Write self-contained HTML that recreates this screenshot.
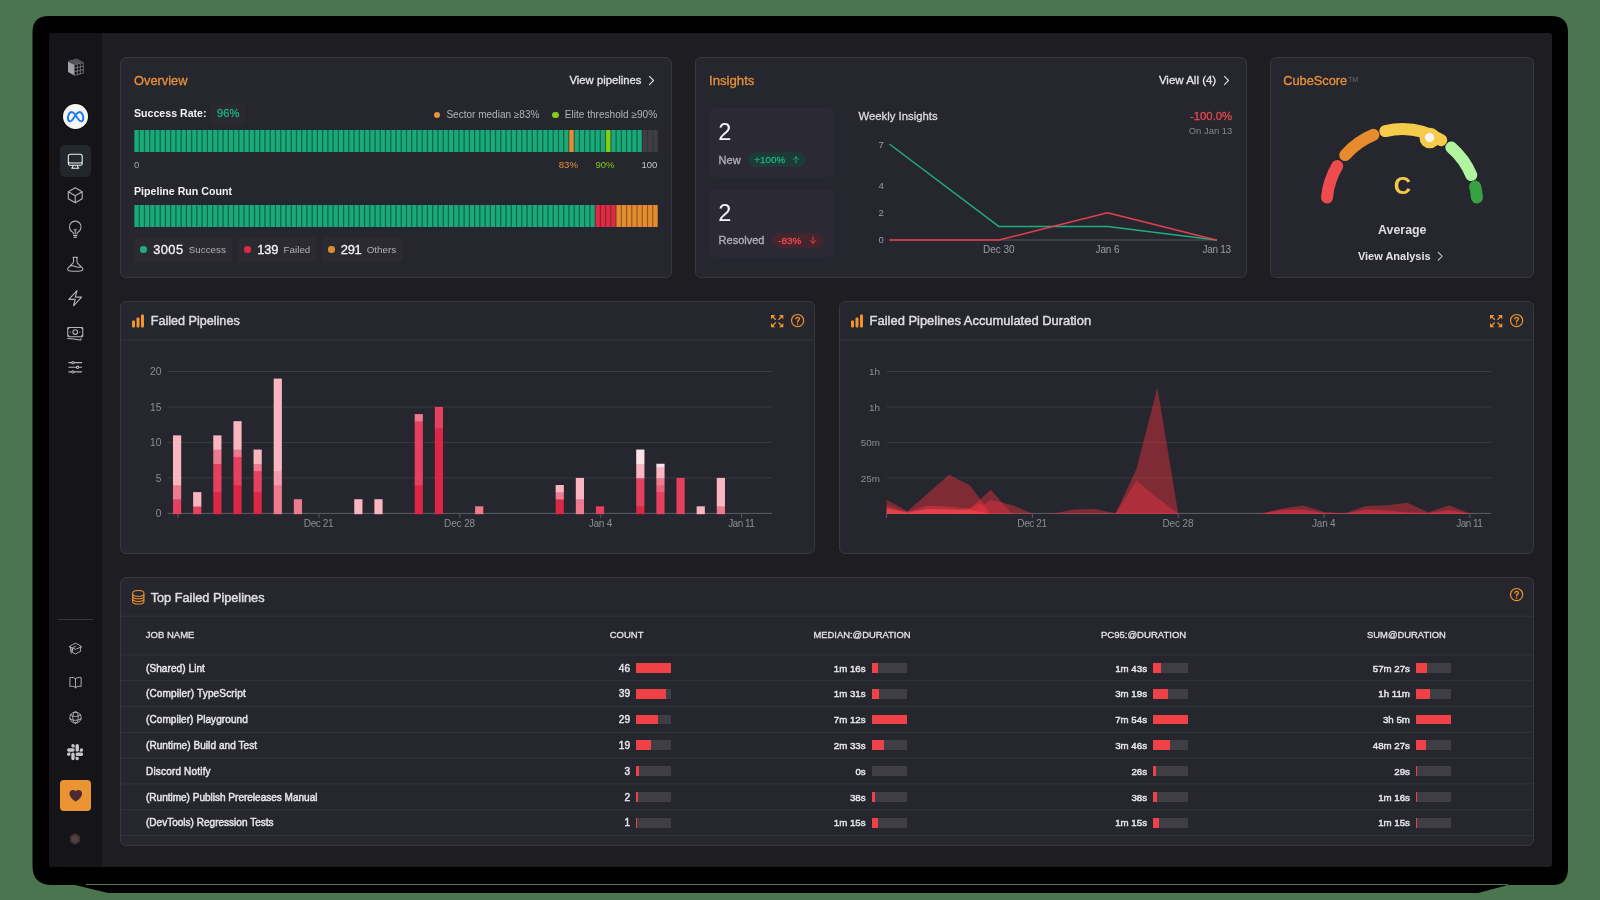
<!DOCTYPE html>
<html><head><meta charset="utf-8"><title>Dashboard</title>
<style>
html,body{margin:0;padding:0;}
body{width:1600px;height:900px;overflow:hidden;position:relative;background:#4a754f;font-family:"Liberation Sans",sans-serif;}
.t{position:absolute;line-height:1;white-space:nowrap;}
#w{position:absolute;left:0;top:0;width:1600px;height:900px;will-change:transform;}
.m{-webkit-text-stroke:0.3px currentColor;}
.m2{-webkit-text-stroke:0.45px currentColor;}
.b{font-weight:bold;}
.card{position:absolute;background:#25262e;border:1px solid #37373d;border-radius:6px;box-sizing:border-box;}
svg{overflow:visible;}
</style></head><body><div id="w">
<svg style="position:absolute;left:0;top:0" width="1600" height="900"><path d="M49 16 H1551 Q1568 16 1568 32 V868 Q1568 885 1553 885 H1508 L1478 893 H108 L75 885 H52 Q32.5 885 32.5 866 V32 Q32.5 16 49 16 Z" fill="#000"/><rect x="86" y="884" width="1422" height="1" fill="#4a754f"/></svg>
<div style="position:absolute;left:49.00px;top:33.00px;width:1503.00px;height:834.00px;background:#1d1d22;border-radius:3px;"></div>
<div style="position:absolute;left:49.00px;top:33.00px;width:53.00px;height:834.00px;background:#141419;border-radius:3px 0 0 3px;"></div>
<svg style="position:absolute;left:67.70px;top:58.50px" width="15.3" height="16.4" viewBox="0 0 15.3 16.4"><polygon points="0.00,2.50 6.30,5.60 6.30,16.40 0.00,13.10" fill="#a2a2a8"/><polygon points="6.30,5.60 15.30,3.70 15.30,14.10 6.30,16.40" fill="#0e0e12"/><polygon points="0.00,2.50 8.70,0.00 15.30,3.70 6.30,5.60" fill="#2a2a30"/><line x1="6.30" y1="5.60" x2="6.30" y2="16.40" stroke="#7d7d84" stroke-width="0.85"/><line x1="6.30" y1="5.60" x2="15.30" y2="3.70" stroke="#7d7d84" stroke-width="0.85"/><line x1="9.30" y1="4.97" x2="9.30" y2="15.63" stroke="#7d7d84" stroke-width="0.85"/><line x1="6.30" y1="9.20" x2="15.30" y2="7.17" stroke="#7d7d84" stroke-width="0.85"/><line x1="12.30" y1="4.33" x2="12.30" y2="14.87" stroke="#7d7d84" stroke-width="0.85"/><line x1="6.30" y1="12.80" x2="15.30" y2="10.63" stroke="#7d7d84" stroke-width="0.85"/><line x1="15.30" y1="3.70" x2="15.30" y2="14.10" stroke="#7d7d84" stroke-width="0.85"/><line x1="6.30" y1="16.40" x2="15.30" y2="14.10" stroke="#7d7d84" stroke-width="0.85"/><line x1="0.00" y1="2.50" x2="8.70" y2="0.00" stroke="#6a6a71" stroke-width="0.8"/><line x1="0.00" y1="2.50" x2="6.30" y2="5.60" stroke="#6a6a71" stroke-width="0.8"/><line x1="2.10" y1="3.53" x2="10.90" y2="1.23" stroke="#6a6a71" stroke-width="0.8"/><line x1="2.90" y1="1.67" x2="9.30" y2="4.97" stroke="#6a6a71" stroke-width="0.8"/><line x1="4.20" y1="4.57" x2="13.10" y2="2.47" stroke="#6a6a71" stroke-width="0.8"/><line x1="5.80" y1="0.83" x2="12.30" y2="4.33" stroke="#6a6a71" stroke-width="0.8"/><line x1="8.7" y1="0" x2="15.3" y2="3.7" stroke="#6a6a71" stroke-width="0.8"/></svg>
<div style="position:absolute;left:62.90px;top:104.40px;width:24.7px;height:25px;border-radius:50%;background:#f6f6f7;box-shadow:0 0 0 1px #0d0d10;"></div>
<svg style="position:absolute;left:66.8px;top:110.8px" width="17.2" height="11.4" viewBox="0 0 17.2 11.4" fill="none" stroke="#1877f2" stroke-width="1.9" stroke-linejoin="round"><path d="M8.6 4.1C7.4 2.3 6.200 1 4.700 1C2.500 1 .95 4.200 .95 7.300C.95 9.300 1.900 10.350 3.200 10.350C5 10.350 6.300 8.100 8.600 4.100C10.900 8.100 12.200 10.350 14 10.350C15.400 10.350 16.300 9.300 16.300 7.300C16.300 4.200 14.700 1 12.500 1C11 1 9.800 2.300 8.600 4.100Z"/></svg>
<div style="position:absolute;left:60.00px;top:145.00px;width:30.80px;height:31.50px;background:#22272e;border-radius:5px;"></div>
<svg style="position:absolute;left:66.05px;top:151.55px;" width="18.5" height="18.5" viewBox="0 0 24 24" fill="none" stroke="#f0f0f2" stroke-width="1.4" stroke-linecap="round" stroke-linejoin="round"><path d="M9 17.25v1.007a3 3 0 0 1-.879 2.122L7.5 21h9l-.621-.621A3 3 0 0 1 15 18.257V17.25m6-12V15a2.25 2.25 0 0 1-2.25 2.25H5.25A2.25 2.25 0 0 1 3 15V5.25m18 0A2.25 2.25 0 0 0 18.75 3H5.25A2.25 2.25 0 0 0 3 5.25m18 0V12a2.25 2.25 0 0 1-2.25 2.25H5.25A2.25 2.25 0 0 1 3 12V5.25"/></svg>
<svg style="position:absolute;left:66.05px;top:185.75px;" width="18.5" height="18.5" viewBox="0 0 24 24" fill="none" stroke="#b4b4ba" stroke-width="1.4" stroke-linecap="round" stroke-linejoin="round"><path d="m21 7.5-9-5.25L3 7.5m18 0-9 5.25m9-5.25v9l-9 5.25M3 7.5l9 5.25M3 7.5v9l9 5.25m0-9v9"/></svg>
<svg style="position:absolute;left:66.05px;top:220.25px;" width="18.5" height="18.5" viewBox="0 0 24 24" fill="none" stroke="#b4b4ba" stroke-width="1.4" stroke-linecap="round" stroke-linejoin="round"><path d="M12 18v-5.25m0 0a6.01 6.01 0 0 0 1.5-.189m-1.5.189a6.01 6.01 0 0 1-1.5-.189m3.75 7.478a12.06 12.06 0 0 1-4.5 0m3.75 2.383a14.406 14.406 0 0 1-3 0M14.25 18v-.192c0-.983.658-1.823 1.508-2.316a7.5 7.5 0 1 0-7.517 0c.85.493 1.509 1.333 1.509 2.316V18"/></svg>
<svg style="position:absolute;left:66.05px;top:254.75px;" width="18.5" height="18.5" viewBox="0 0 24 24" fill="none" stroke="#b4b4ba" stroke-width="1.4" stroke-linecap="round" stroke-linejoin="round"><path d="M9.75 3.104v5.714a2.25 2.25 0 0 1-.659 1.591L5 14.5M9.75 3.104c-.251.023-.501.05-.75.082m.75-.082a24.301 24.301 0 0 1 4.5 0m0 0v5.714c0 .597.237 1.17.659 1.591L19.8 15.3M14.25 3.104c.251.023.501.05.75.082M19.8 15.3l-1.57.393A9.065 9.065 0 0 1 12 15a9.065 9.065 0 0 0-6.23-.693L5 14.5m14.8.8 1.402 1.402c1.232 1.232.65 3.318-1.067 3.611A48.309 48.309 0 0 1 12 21c-2.773 0-5.491-.235-8.135-.687-1.718-.293-2.3-2.379-1.067-3.61L5 14.5"/></svg>
<svg style="position:absolute;left:66.05px;top:289.25px;" width="18.5" height="18.5" viewBox="0 0 24 24" fill="none" stroke="#b4b4ba" stroke-width="1.4" stroke-linecap="round" stroke-linejoin="round"><path d="m3.75 13.5 10.5-11.25L12 10.5h8.25L9.75 21.75 12 13.5H3.75Z"/></svg>
<svg style="position:absolute;left:66.05px;top:323.75px;" width="18.5" height="18.5" viewBox="0 0 24 24" fill="none" stroke="#b4b4ba" stroke-width="1.4" stroke-linecap="round" stroke-linejoin="round"><path d="M2.25 18.75a60.07 60.07 0 0 1 15.797 2.101c.727.198 1.453-.342 1.453-1.096V18.75M3.75 4.5v.75A.75.75 0 0 1 3 6h-.75m0 0v-.375c0-.621.504-1.125 1.125-1.125H20.25M2.25 6v9m18-10.5v.75c0 .414.336.75.75.75h.75m-1.5-1.5h.375c.621 0 1.125.504 1.125 1.125v9.75c0 .621-.504 1.125-1.125 1.125h-.375m1.5-1.5H21a.75.75 0 0 0-.75.75v.75m0 0H3.75m0 0h-.375a1.125 1.125 0 0 1-1.125-1.125V15m1.5 1.5v-.75A.75.75 0 0 0 3 15h-.75M15 10.5a3 3 0 1 1-6 0 3 3 0 0 1 6 0Zm3 0h.008v.008H18V10.5Zm-12 0h.008v.008H6V10.5Z"/></svg>
<svg style="position:absolute;left:66.05px;top:358.25px;" width="18.5" height="18.5" viewBox="0 0 24 24" fill="none" stroke="#b4b4ba" stroke-width="1.4" stroke-linecap="round" stroke-linejoin="round"><path d="M10.5 6h9.75M10.5 6a1.5 1.5 0 1 1-3 0m3 0a1.5 1.5 0 1 0-3 0M3.75 6H7.5m3 12h9.75m-9.75 0a1.5 1.5 0 0 1-3 0m3 0a1.5 1.5 0 0 0-3 0m-3.75 0H7.5m9-6h3.75m-3.75 0a1.5 1.5 0 0 1-3 0m3 0a1.5 1.5 0 0 0-3 0m-9.75 0h9.75"/></svg>
<div style="position:absolute;left:58.00px;top:619.00px;width:35.00px;height:1.00px;background:#36363d;"></div>
<svg style="position:absolute;left:67.80px;top:640.80px;" width="15" height="15" viewBox="0 0 24 24" fill="none" stroke="#b4b4ba" stroke-width="1.5" stroke-linecap="round" stroke-linejoin="round"><path d="M4.26 10.147a60.438 60.438 0 0 0-.491 6.347A48.62 48.62 0 0 1 12 20.904a48.62 48.62 0 0 1 8.232-4.41 60.46 60.46 0 0 0-.491-6.347m-15.482 0a50.636 50.636 0 0 0-2.658-.813A59.906 59.906 0 0 1 12 3.493a59.903 59.903 0 0 1 10.399 5.84c-.896.248-1.783.52-2.658.814m-15.482 0A50.717 50.717 0 0 1 12 13.489a50.702 50.702 0 0 1 7.74-3.342M6.75 15a.75.75 0 1 0 0-1.5.75.75 0 0 0 0 1.5Zm0 0v-3.675A55.378 55.378 0 0 1 12 8.443m-7.007 11.55A5.981 5.981 0 0 0 6.75 15.75v-1.5"/></svg>
<svg style="position:absolute;left:67.80px;top:674.80px;" width="15" height="15" viewBox="0 0 24 24" fill="none" stroke="#b4b4ba" stroke-width="1.5" stroke-linecap="round" stroke-linejoin="round"><path d="M12 6.042A8.967 8.967 0 0 0 6 3.75c-1.052 0-2.062.18-3 .512v14.25A8.987 8.987 0 0 1 6 18c2.305 0 4.408.867 6 2.292m0-14.25a8.966 8.966 0 0 1 6-2.292c1.052 0 2.062.18 3 .512v14.25A8.987 8.987 0 0 0 18 18a8.967 8.967 0 0 0-6 2.292m0-14.25v14.25"/></svg>
<svg style="position:absolute;left:67.80px;top:709.50px;" width="15" height="15" viewBox="0 0 24 24" fill="none" stroke="#b4b4ba" stroke-width="1.5" stroke-linecap="round" stroke-linejoin="round"><path d="M12 21a9.004 9.004 0 0 0 8.716-6.747M12 21a9.004 9.004 0 0 1-8.716-6.747M12 21c2.485 0 4.5-4.03 4.5-9S14.485 3 12 3m0 18c-2.485 0-4.5-4.03-4.5-9S9.515 3 12 3m0 0a8.997 8.997 0 0 1 7.843 4.582M12 3a8.997 8.997 0 0 0-7.843 4.582m15.686 0A11.953 11.953 0 0 1 12 10.5c-2.998 0-5.74-1.1-7.843-2.918m15.686 0A8.959 8.959 0 0 1 21 12c0 .778-.099 1.533-.284 2.253m0 0A17.919 17.919 0 0 1 12 16.5c-3.162 0-6.133-.815-8.716-2.247m0 0A9.015 9.015 0 0 1 3 12c0-1.605.42-3.113 1.157-4.418"/></svg>
<svg style="position:absolute;left:67.00px;top:743.60px" width="16.2" height="16.2" viewBox="0 0 24 24" fill="#c6c6cb"><path d="M5.042 15.165a2.528 2.528 0 0 1-2.520 2.523A2.528 2.528 0 0 1 0 15.165a2.527 2.527 0 0 1 2.522-2.520h2.520v2.520zM6.313 15.165a2.527 2.527 0 0 1 2.521-2.520 2.527 2.527 0 0 1 2.521 2.520v6.313A2.528 2.528 0 0 1 8.834 24a2.528 2.528 0 0 1-2.521-2.522v-6.313zM8.834 5.042a2.528 2.528 0 0 1-2.521-2.520A2.528 2.528 0 0 1 8.834 0a2.528 2.528 0 0 1 2.521 2.522v2.520H8.834zM8.834 6.313a2.528 2.528 0 0 1 2.521 2.521 2.528 2.528 0 0 1-2.521 2.521H2.522A2.528 2.528 0 0 1 0 8.834a2.528 2.528 0 0 1 2.522-2.521h6.312zM18.956 8.834a2.528 2.528 0 0 1 2.522-2.521A2.528 2.528 0 0 1 24 8.834a2.528 2.528 0 0 1-2.522 2.521h-2.522V8.834zM17.688 8.834a2.528 2.528 0 0 1-2.523 2.521 2.527 2.527 0 0 1-2.520-2.521V2.522A2.527 2.527 0 0 1 15.165 0a2.528 2.528 0 0 1 2.523 2.522v6.312zM15.165 18.956a2.528 2.528 0 0 1 2.523 2.522A2.528 2.528 0 0 1 15.165 24a2.527 2.527 0 0 1-2.520-2.522v-2.522h2.520zM15.165 17.688a2.527 2.527 0 0 1-2.520-2.523 2.526 2.526 0 0 1 2.520-2.520h6.313A2.527 2.527 0 0 1 24 15.165a2.528 2.528 0 0 1-2.522 2.523h-6.313z"/></svg>
<div style="position:absolute;left:59.70px;top:780.00px;width:31.30px;height:31.00px;background:#ea9434;border-radius:4px;"></div>
<svg style="position:absolute;left:67.55px;top:787.55px;" width="15.5" height="15.5" viewBox="0 0 24 24" fill="#4a2b33" ><path d="m11.645 20.91-.007-.003-.022-.012a15.247 15.247 0 0 1-.383-.218 25.18 25.18 0 0 1-4.244-3.17C4.688 15.36 2.25 12.174 2.25 8.25 2.25 5.322 4.714 3 7.688 3A5.5 5.5 0 0 1 12 5.052 5.5 5.5 0 0 1 16.313 3c2.973 0 5.437 2.322 5.437 5.25 0 3.925-2.438 7.111-4.739 9.256a25.175 25.175 0 0 1-4.244 3.17 15.247 15.247 0 0 1-.383.219l-.022.012-.007.004-.003.001a.752.752 0 0 1-.704 0l-.003-.001Z"/></svg>
<svg style="position:absolute;left:68.30px;top:832.30px" width="14" height="14" viewBox="0 0 14 14"><polygon points="7,1 12.2,4 12.2,10 7,13 1.800,10 1.800,4" fill="#3a2c30"/><polygon points="7,2.8 10.600,4.900 10.600,9.100 7,11.200 3.400,9.100 3.400,4.900" fill="#54403f"/></svg>
<div class="card" style="left:120px;top:57px;width:552px;height:220.5px"></div>
<div class="card" style="left:695px;top:57px;width:552px;height:220.5px"></div>
<div class="card" style="left:1270px;top:57px;width:264px;height:220.5px"></div>
<div class="t m" style="left:134.00px;top:75px;font-size:12.85px;color:#e8913a;">Overview</div>
<div class="t m" style="left:569.50px;top:75px;font-size:11.3px;color:#e6e6ea;">View pipelines</div>
<svg style="position:absolute;left:645.10px;top:73.60px;" width="13" height="13" viewBox="0 0 24 24" fill="none" stroke="#dedee2" stroke-width="2" stroke-linecap="round" stroke-linejoin="round"><path d="m8.25 4.5 7.5 7.5-7.5 7.5"/></svg>
<div style="position:absolute;left:210.40px;top:102.50px;width:36.60px;height:21.00px;background:#2a2831;border-radius:5px;"></div>
<div class="t b" style="left:134.00px;top:108px;font-size:10.62px;color:#f2f2f4;">Success Rate:</div>
<div class="t m" style="left:217.00px;top:108px;font-size:11.2px;color:#1fae7d;">96%</div>
<div style="position:absolute;left:433.80px;top:111.50px;width:6.50px;height:6.50px;background:#e8913a;border-radius:50%;"></div>
<div class="t" style="left:446.40px;top:110px;font-size:10.04px;color:#b3b3b9;">Sector median ≥83%</div>
<div style="position:absolute;left:552.00px;top:111.50px;width:6.50px;height:6.50px;background:#84cc16;border-radius:50%;"></div>
<div class="t" style="left:564.80px;top:110px;font-size:10.08px;color:#b3b3b9;">Elite threshold ≥90%</div>
<svg style="position:absolute;left:134px;top:130.2px" width="524" height="22" viewBox="0 0 524 22" shape-rendering="auto"><rect x="0.00" y="0" width="434.92" height="22" fill="#0f6247"/><rect x="0.60" y="0" width="4.04" height="22" fill="#1aa978"/><rect x="5.84" y="0" width="4.04" height="22" fill="#1aa978"/><rect x="11.08" y="0" width="4.04" height="22" fill="#1aa978"/><rect x="16.32" y="0" width="4.04" height="22" fill="#1aa978"/><rect x="21.56" y="0" width="4.04" height="22" fill="#1aa978"/><rect x="26.80" y="0" width="4.04" height="22" fill="#1aa978"/><rect x="32.04" y="0" width="4.04" height="22" fill="#1aa978"/><rect x="37.28" y="0" width="4.04" height="22" fill="#1aa978"/><rect x="42.52" y="0" width="4.04" height="22" fill="#1aa978"/><rect x="47.76" y="0" width="4.04" height="22" fill="#1aa978"/><rect x="53.00" y="0" width="4.04" height="22" fill="#1aa978"/><rect x="58.24" y="0" width="4.04" height="22" fill="#1aa978"/><rect x="63.48" y="0" width="4.04" height="22" fill="#1aa978"/><rect x="68.72" y="0" width="4.04" height="22" fill="#1aa978"/><rect x="73.96" y="0" width="4.04" height="22" fill="#1aa978"/><rect x="79.20" y="0" width="4.04" height="22" fill="#1aa978"/><rect x="84.44" y="0" width="4.04" height="22" fill="#1aa978"/><rect x="89.68" y="0" width="4.04" height="22" fill="#1aa978"/><rect x="94.92" y="0" width="4.04" height="22" fill="#1aa978"/><rect x="100.16" y="0" width="4.04" height="22" fill="#1aa978"/><rect x="105.40" y="0" width="4.04" height="22" fill="#1aa978"/><rect x="110.64" y="0" width="4.04" height="22" fill="#1aa978"/><rect x="115.88" y="0" width="4.04" height="22" fill="#1aa978"/><rect x="121.12" y="0" width="4.04" height="22" fill="#1aa978"/><rect x="126.36" y="0" width="4.04" height="22" fill="#1aa978"/><rect x="131.60" y="0" width="4.04" height="22" fill="#1aa978"/><rect x="136.84" y="0" width="4.04" height="22" fill="#1aa978"/><rect x="142.08" y="0" width="4.04" height="22" fill="#1aa978"/><rect x="147.32" y="0" width="4.04" height="22" fill="#1aa978"/><rect x="152.56" y="0" width="4.04" height="22" fill="#1aa978"/><rect x="157.80" y="0" width="4.04" height="22" fill="#1aa978"/><rect x="163.04" y="0" width="4.04" height="22" fill="#1aa978"/><rect x="168.28" y="0" width="4.04" height="22" fill="#1aa978"/><rect x="173.52" y="0" width="4.04" height="22" fill="#1aa978"/><rect x="178.76" y="0" width="4.04" height="22" fill="#1aa978"/><rect x="184.00" y="0" width="4.04" height="22" fill="#1aa978"/><rect x="189.24" y="0" width="4.04" height="22" fill="#1aa978"/><rect x="194.48" y="0" width="4.04" height="22" fill="#1aa978"/><rect x="199.72" y="0" width="4.04" height="22" fill="#1aa978"/><rect x="204.96" y="0" width="4.04" height="22" fill="#1aa978"/><rect x="210.20" y="0" width="4.04" height="22" fill="#1aa978"/><rect x="215.44" y="0" width="4.04" height="22" fill="#1aa978"/><rect x="220.68" y="0" width="4.04" height="22" fill="#1aa978"/><rect x="225.92" y="0" width="4.04" height="22" fill="#1aa978"/><rect x="231.16" y="0" width="4.04" height="22" fill="#1aa978"/><rect x="236.40" y="0" width="4.04" height="22" fill="#1aa978"/><rect x="241.64" y="0" width="4.04" height="22" fill="#1aa978"/><rect x="246.88" y="0" width="4.04" height="22" fill="#1aa978"/><rect x="252.12" y="0" width="4.04" height="22" fill="#1aa978"/><rect x="257.36" y="0" width="4.04" height="22" fill="#1aa978"/><rect x="262.60" y="0" width="4.04" height="22" fill="#1aa978"/><rect x="267.84" y="0" width="4.04" height="22" fill="#1aa978"/><rect x="273.08" y="0" width="4.04" height="22" fill="#1aa978"/><rect x="278.32" y="0" width="4.04" height="22" fill="#1aa978"/><rect x="283.56" y="0" width="4.04" height="22" fill="#1aa978"/><rect x="288.80" y="0" width="4.04" height="22" fill="#1aa978"/><rect x="294.04" y="0" width="4.04" height="22" fill="#1aa978"/><rect x="299.28" y="0" width="4.04" height="22" fill="#1aa978"/><rect x="304.52" y="0" width="4.04" height="22" fill="#1aa978"/><rect x="309.76" y="0" width="4.04" height="22" fill="#1aa978"/><rect x="315.00" y="0" width="4.04" height="22" fill="#1aa978"/><rect x="320.24" y="0" width="4.04" height="22" fill="#1aa978"/><rect x="325.48" y="0" width="4.04" height="22" fill="#1aa978"/><rect x="330.72" y="0" width="4.04" height="22" fill="#1aa978"/><rect x="335.96" y="0" width="4.04" height="22" fill="#1aa978"/><rect x="341.20" y="0" width="4.04" height="22" fill="#1aa978"/><rect x="346.44" y="0" width="4.04" height="22" fill="#1aa978"/><rect x="351.68" y="0" width="4.04" height="22" fill="#1aa978"/><rect x="356.92" y="0" width="4.04" height="22" fill="#1aa978"/><rect x="362.16" y="0" width="4.04" height="22" fill="#1aa978"/><rect x="367.40" y="0" width="4.04" height="22" fill="#1aa978"/><rect x="372.64" y="0" width="4.04" height="22" fill="#1aa978"/><rect x="377.88" y="0" width="4.04" height="22" fill="#1aa978"/><rect x="383.12" y="0" width="4.04" height="22" fill="#1aa978"/><rect x="388.36" y="0" width="4.04" height="22" fill="#1aa978"/><rect x="393.60" y="0" width="4.04" height="22" fill="#1aa978"/><rect x="398.84" y="0" width="4.04" height="22" fill="#1aa978"/><rect x="404.08" y="0" width="4.04" height="22" fill="#1aa978"/><rect x="409.32" y="0" width="4.04" height="22" fill="#1aa978"/><rect x="414.56" y="0" width="4.04" height="22" fill="#1aa978"/><rect x="419.80" y="0" width="4.04" height="22" fill="#1aa978"/><rect x="425.04" y="0" width="4.04" height="22" fill="#1aa978"/><rect x="430.28" y="0" width="4.04" height="22" fill="#1aa978"/><rect x="434.92" y="0" width="5.24" height="22" fill="#935a20"/><rect x="435.52" y="0" width="4.04" height="22" fill="#e48c2f"/><rect x="440.16" y="0" width="31.44" height="22" fill="#0f6247"/><rect x="440.76" y="0" width="4.04" height="22" fill="#1aa978"/><rect x="446.00" y="0" width="4.04" height="22" fill="#1aa978"/><rect x="451.24" y="0" width="4.04" height="22" fill="#1aa978"/><rect x="456.48" y="0" width="4.04" height="22" fill="#1aa978"/><rect x="461.72" y="0" width="4.04" height="22" fill="#1aa978"/><rect x="466.96" y="0" width="4.04" height="22" fill="#1aa978"/><rect x="471.60" y="0" width="5.24" height="22" fill="#5a8c10"/><rect x="472.20" y="0" width="4.04" height="22" fill="#86cf17"/><rect x="476.84" y="0" width="31.44" height="22" fill="#0f6247"/><rect x="477.44" y="0" width="4.04" height="22" fill="#1aa978"/><rect x="482.68" y="0" width="4.04" height="22" fill="#1aa978"/><rect x="487.92" y="0" width="4.04" height="22" fill="#1aa978"/><rect x="493.16" y="0" width="4.04" height="22" fill="#1aa978"/><rect x="498.40" y="0" width="4.04" height="22" fill="#1aa978"/><rect x="503.64" y="0" width="4.04" height="22" fill="#1aa978"/><rect x="508.28" y="0" width="15.72" height="22" fill="#323238"/><rect x="508.88" y="0" width="4.04" height="22" fill="#3e3e44"/><rect x="514.12" y="0" width="4.04" height="22" fill="#3e3e44"/><rect x="519.36" y="0" width="4.04" height="22" fill="#3e3e44"/></svg>
<div class="t" style="left:134.00px;top:160px;font-size:9.5px;color:#a4a4ab;">0</div>
<div class="t" style="left:568.40px;transform:translateX(-50%);top:160px;font-size:9.6px;color:#e8913a;">83%</div>
<div class="t" style="left:605.00px;transform:translateX(-50%);top:160px;font-size:9.6px;color:#84cc16;">90%</div>
<div class="t" style="right:942.60px;top:160px;font-size:9.5px;color:#c8c8cd;">100</div>
<div class="t b" style="left:134.00px;top:186px;font-size:10.63px;color:#f2f2f4;">Pipeline Run Count</div>
<svg style="position:absolute;left:134px;top:205.3px" width="524" height="22" viewBox="0 0 524 22" shape-rendering="auto"><rect x="0.00" y="0" width="461.12" height="22" fill="#0f6247"/><rect x="0.60" y="0" width="4.04" height="22" fill="#1aa978"/><rect x="5.84" y="0" width="4.04" height="22" fill="#1aa978"/><rect x="11.08" y="0" width="4.04" height="22" fill="#1aa978"/><rect x="16.32" y="0" width="4.04" height="22" fill="#1aa978"/><rect x="21.56" y="0" width="4.04" height="22" fill="#1aa978"/><rect x="26.80" y="0" width="4.04" height="22" fill="#1aa978"/><rect x="32.04" y="0" width="4.04" height="22" fill="#1aa978"/><rect x="37.28" y="0" width="4.04" height="22" fill="#1aa978"/><rect x="42.52" y="0" width="4.04" height="22" fill="#1aa978"/><rect x="47.76" y="0" width="4.04" height="22" fill="#1aa978"/><rect x="53.00" y="0" width="4.04" height="22" fill="#1aa978"/><rect x="58.24" y="0" width="4.04" height="22" fill="#1aa978"/><rect x="63.48" y="0" width="4.04" height="22" fill="#1aa978"/><rect x="68.72" y="0" width="4.04" height="22" fill="#1aa978"/><rect x="73.96" y="0" width="4.04" height="22" fill="#1aa978"/><rect x="79.20" y="0" width="4.04" height="22" fill="#1aa978"/><rect x="84.44" y="0" width="4.04" height="22" fill="#1aa978"/><rect x="89.68" y="0" width="4.04" height="22" fill="#1aa978"/><rect x="94.92" y="0" width="4.04" height="22" fill="#1aa978"/><rect x="100.16" y="0" width="4.04" height="22" fill="#1aa978"/><rect x="105.40" y="0" width="4.04" height="22" fill="#1aa978"/><rect x="110.64" y="0" width="4.04" height="22" fill="#1aa978"/><rect x="115.88" y="0" width="4.04" height="22" fill="#1aa978"/><rect x="121.12" y="0" width="4.04" height="22" fill="#1aa978"/><rect x="126.36" y="0" width="4.04" height="22" fill="#1aa978"/><rect x="131.60" y="0" width="4.04" height="22" fill="#1aa978"/><rect x="136.84" y="0" width="4.04" height="22" fill="#1aa978"/><rect x="142.08" y="0" width="4.04" height="22" fill="#1aa978"/><rect x="147.32" y="0" width="4.04" height="22" fill="#1aa978"/><rect x="152.56" y="0" width="4.04" height="22" fill="#1aa978"/><rect x="157.80" y="0" width="4.04" height="22" fill="#1aa978"/><rect x="163.04" y="0" width="4.04" height="22" fill="#1aa978"/><rect x="168.28" y="0" width="4.04" height="22" fill="#1aa978"/><rect x="173.52" y="0" width="4.04" height="22" fill="#1aa978"/><rect x="178.76" y="0" width="4.04" height="22" fill="#1aa978"/><rect x="184.00" y="0" width="4.04" height="22" fill="#1aa978"/><rect x="189.24" y="0" width="4.04" height="22" fill="#1aa978"/><rect x="194.48" y="0" width="4.04" height="22" fill="#1aa978"/><rect x="199.72" y="0" width="4.04" height="22" fill="#1aa978"/><rect x="204.96" y="0" width="4.04" height="22" fill="#1aa978"/><rect x="210.20" y="0" width="4.04" height="22" fill="#1aa978"/><rect x="215.44" y="0" width="4.04" height="22" fill="#1aa978"/><rect x="220.68" y="0" width="4.04" height="22" fill="#1aa978"/><rect x="225.92" y="0" width="4.04" height="22" fill="#1aa978"/><rect x="231.16" y="0" width="4.04" height="22" fill="#1aa978"/><rect x="236.40" y="0" width="4.04" height="22" fill="#1aa978"/><rect x="241.64" y="0" width="4.04" height="22" fill="#1aa978"/><rect x="246.88" y="0" width="4.04" height="22" fill="#1aa978"/><rect x="252.12" y="0" width="4.04" height="22" fill="#1aa978"/><rect x="257.36" y="0" width="4.04" height="22" fill="#1aa978"/><rect x="262.60" y="0" width="4.04" height="22" fill="#1aa978"/><rect x="267.84" y="0" width="4.04" height="22" fill="#1aa978"/><rect x="273.08" y="0" width="4.04" height="22" fill="#1aa978"/><rect x="278.32" y="0" width="4.04" height="22" fill="#1aa978"/><rect x="283.56" y="0" width="4.04" height="22" fill="#1aa978"/><rect x="288.80" y="0" width="4.04" height="22" fill="#1aa978"/><rect x="294.04" y="0" width="4.04" height="22" fill="#1aa978"/><rect x="299.28" y="0" width="4.04" height="22" fill="#1aa978"/><rect x="304.52" y="0" width="4.04" height="22" fill="#1aa978"/><rect x="309.76" y="0" width="4.04" height="22" fill="#1aa978"/><rect x="315.00" y="0" width="4.04" height="22" fill="#1aa978"/><rect x="320.24" y="0" width="4.04" height="22" fill="#1aa978"/><rect x="325.48" y="0" width="4.04" height="22" fill="#1aa978"/><rect x="330.72" y="0" width="4.04" height="22" fill="#1aa978"/><rect x="335.96" y="0" width="4.04" height="22" fill="#1aa978"/><rect x="341.20" y="0" width="4.04" height="22" fill="#1aa978"/><rect x="346.44" y="0" width="4.04" height="22" fill="#1aa978"/><rect x="351.68" y="0" width="4.04" height="22" fill="#1aa978"/><rect x="356.92" y="0" width="4.04" height="22" fill="#1aa978"/><rect x="362.16" y="0" width="4.04" height="22" fill="#1aa978"/><rect x="367.40" y="0" width="4.04" height="22" fill="#1aa978"/><rect x="372.64" y="0" width="4.04" height="22" fill="#1aa978"/><rect x="377.88" y="0" width="4.04" height="22" fill="#1aa978"/><rect x="383.12" y="0" width="4.04" height="22" fill="#1aa978"/><rect x="388.36" y="0" width="4.04" height="22" fill="#1aa978"/><rect x="393.60" y="0" width="4.04" height="22" fill="#1aa978"/><rect x="398.84" y="0" width="4.04" height="22" fill="#1aa978"/><rect x="404.08" y="0" width="4.04" height="22" fill="#1aa978"/><rect x="409.32" y="0" width="4.04" height="22" fill="#1aa978"/><rect x="414.56" y="0" width="4.04" height="22" fill="#1aa978"/><rect x="419.80" y="0" width="4.04" height="22" fill="#1aa978"/><rect x="425.04" y="0" width="4.04" height="22" fill="#1aa978"/><rect x="430.28" y="0" width="4.04" height="22" fill="#1aa978"/><rect x="435.52" y="0" width="4.04" height="22" fill="#1aa978"/><rect x="440.76" y="0" width="4.04" height="22" fill="#1aa978"/><rect x="446.00" y="0" width="4.04" height="22" fill="#1aa978"/><rect x="451.24" y="0" width="4.04" height="22" fill="#1aa978"/><rect x="456.48" y="0" width="4.04" height="22" fill="#1aa978"/><rect x="461.12" y="0" width="20.96" height="22" fill="#92202f"/><rect x="461.72" y="0" width="4.04" height="22" fill="#de2b45"/><rect x="466.96" y="0" width="4.04" height="22" fill="#de2b45"/><rect x="472.20" y="0" width="4.04" height="22" fill="#de2b45"/><rect x="477.44" y="0" width="4.04" height="22" fill="#de2b45"/><rect x="482.08" y="0" width="41.92" height="22" fill="#935a20"/><rect x="482.68" y="0" width="4.04" height="22" fill="#e48c2f"/><rect x="487.92" y="0" width="4.04" height="22" fill="#e48c2f"/><rect x="493.16" y="0" width="4.04" height="22" fill="#e48c2f"/><rect x="498.40" y="0" width="4.04" height="22" fill="#e48c2f"/><rect x="503.64" y="0" width="4.04" height="22" fill="#e48c2f"/><rect x="508.88" y="0" width="4.04" height="22" fill="#e48c2f"/><rect x="514.12" y="0" width="4.04" height="22" fill="#e48c2f"/><rect x="519.36" y="0" width="4.04" height="22" fill="#e48c2f"/></svg>
<div style="position:absolute;left:134.00px;top:237.00px;width:98.00px;height:24.60px;background:#2b2a33;border-radius:4px;"></div>
<div style="position:absolute;left:140.20px;top:246.20px;width:6.50px;height:6.50px;background:#1fae7d;border-radius:50%;"></div>
<div class="t m" style="left:153.20px;top:244px;font-size:12.9px;color:#f4f4f6;letter-spacing:0.400px;">3005</div>
<div class="t" style="left:188.80px;top:245px;font-size:9.8px;color:#b0b0b6;">Success</div>
<div style="position:absolute;left:238.20px;top:237.00px;width:77.60px;height:24.60px;background:#2b2a33;border-radius:4px;"></div>
<div style="position:absolute;left:244.40px;top:246.20px;width:6.50px;height:6.50px;background:#dc2a44;border-radius:50%;"></div>
<div class="t m" style="left:257.30px;top:244px;font-size:12.9px;color:#f4f4f6;letter-spacing:-0.175px;">139</div>
<div class="t" style="left:283.60px;top:245px;font-size:9.8px;color:#b0b0b6;">Failed</div>
<div style="position:absolute;left:322.00px;top:237.00px;width:80.70px;height:24.60px;background:#2b2a33;border-radius:4px;"></div>
<div style="position:absolute;left:328.20px;top:246.20px;width:6.50px;height:6.50px;background:#e08a2e;border-radius:50%;"></div>
<div class="t m" style="left:340.80px;top:244px;font-size:12.9px;color:#f4f4f6;letter-spacing:-0.308px;">291</div>
<div class="t" style="left:366.70px;top:245px;font-size:9.8px;color:#b0b0b6;">Others</div>
<div class="t m" style="left:709.00px;top:74px;font-size:13.2px;color:#e8913a;">Insights</div>
<div class="t m" style="left:1158.90px;top:75px;font-size:11.5px;color:#e6e6ea;">View All (4)</div>
<svg style="position:absolute;left:1220.10px;top:73.60px;" width="13" height="13" viewBox="0 0 24 24" fill="none" stroke="#dedee2" stroke-width="2" stroke-linecap="round" stroke-linejoin="round"><path d="m8.25 4.5 7.5 7.5-7.5 7.5"/></svg>
<div style="position:absolute;left:708.80px;top:108.20px;width:125.20px;height:69.00px;background:#2b2933;border-radius:5px;"></div>
<div style="position:absolute;left:708.80px;top:188.80px;width:125.20px;height:68.50px;background:#2b2933;border-radius:5px;"></div>
<div class="t" style="left:718.20px;top:121px;font-size:23.5px;color:#f6f6f8;">2</div>
<div class="t" style="left:718.20px;top:202px;font-size:23.5px;color:#f6f6f8;">2</div>
<div class="t m" style="left:718.60px;top:155px;font-size:11px;color:#b3b3b9;">New</div>
<div class="t m" style="left:718.60px;top:235px;font-size:11px;color:#b3b3b9;">Resolved</div>
<div style="position:absolute;left:747.80px;top:152.30px;width:58.20px;height:15.00px;background:#1e3a36;border-radius:8px;"></div>
<div class="t m" style="left:754.20px;top:155px;font-size:9.9px;color:#1fae7d;">+100%</div>
<svg style="position:absolute;left:790.50px;top:154.80px;" width="10" height="10" viewBox="0 0 24 24" fill="none" stroke="#1fae7d" stroke-width="2" stroke-linecap="round" stroke-linejoin="round"><path d="M12 19.5v-15m0 0-6.75 6.75M12 4.5l6.75 6.75"/></svg>
<div style="position:absolute;left:772.00px;top:233.00px;width:51.80px;height:14.60px;background:#45252d;border-radius:8px;"></div>
<div class="t m" style="left:778.20px;top:236px;font-size:9.9px;color:#ef4a4f;">-83%</div>
<svg style="position:absolute;left:808.20px;top:235.40px;" width="10" height="10" viewBox="0 0 24 24" fill="none" stroke="#ef4a4f" stroke-width="2" stroke-linecap="round" stroke-linejoin="round"><path d="M12 4.5v15m0 0 6.75-6.75M12 19.5l-6.75-6.75"/></svg>
<div class="t m" style="left:858.50px;top:111px;font-size:11.34px;color:#dcdce0;">Weekly Insights</div>
<div class="t m" style="right:367.80px;top:111px;font-size:11.33px;color:#e5484d;">-100.0%</div>
<div class="t" style="right:367.80px;top:126px;font-size:9.41px;color:#86868e;">On Jan 13</div>
<div class="t" style="right:716.20px;top:140px;font-size:9.6px;color:#9d9da4;">7</div>
<div class="t" style="right:716.20px;top:181px;font-size:9.6px;color:#9d9da4;">4</div>
<div class="t" style="right:716.20px;top:208px;font-size:9.6px;color:#9d9da4;">2</div>
<div class="t" style="right:716.20px;top:235px;font-size:9.6px;color:#9d9da4;">0</div>
<svg style="position:absolute;left:0;top:0" width="1600" height="300" fill="none" stroke-linejoin="round" stroke-linecap="round"><line x1="890" y1="240" x2="1216.25" y2="240" stroke="#55565c" stroke-width="1"/><polyline points="890,144.5 998.75,226.4 1107.5,226.4 1216.25,240.0" stroke="#1fae7d" stroke-width="1.5"/><polyline points="890,240.0 998.75,240.0 1107.5,212.7 1216.25,240.0" stroke="#e5404d" stroke-width="1.5"/></svg>
<div class="t" style="left:998.75px;transform:translateX(-50%);top:245px;font-size:10px;color:#9d9da4;letter-spacing:-0.031px;margin-left:-0.015px;">Dec 30</div>
<div class="t" style="left:1107.50px;transform:translateX(-50%);top:245px;font-size:10px;color:#9d9da4;letter-spacing:-0.143px;margin-left:-0.071px;">Jan 6</div>
<div class="t" style="left:1216.75px;transform:translateX(-50%);top:245px;font-size:10px;color:#9d9da4;letter-spacing:-0.296px;margin-left:-0.148px;">Jan 13</div>
<div class="t m" style="left:1283.20px;top:75px;font-size:12.8px;color:#e8913a;">CubeScore</div>
<div class="t" style="left:1348.00px;top:76px;font-size:7px;color:#6d6d75;">TM</div>
<svg style="position:absolute;left:0;top:0" width="1600" height="300"><path d="M1327.02 197.54 A75.3 75.3 0 0 1 1337.25 166.06" stroke="#ee4b4f" stroke-width="12" stroke-linecap="round" fill="none"/><path d="M1345.17 155.10 A75.3 75.3 0 0 1 1373.31 134.88" stroke="#e88b2e" stroke-width="12" stroke-linecap="round" fill="none"/><path d="M1385.32 131.07 A75.3 75.3 0 0 1 1441.23 140.23" stroke="#f5cb4b" stroke-width="12" stroke-linecap="round" fill="none"/><path d="M1451.30 147.58 A75.3 75.3 0 0 1 1471.31 175.08" stroke="#b1f5a0" stroke-width="12" stroke-linecap="round" fill="none"/><path d="M1475.13 186.54 A75.3 75.3 0 0 1 1476.98 197.54" stroke="#38a243" stroke-width="12" stroke-linecap="round" fill="none"/><circle cx="1429.8" cy="138" r="10.3" fill="#f5cb4b"/><circle cx="1429.5" cy="137.6" r="4.6" fill="#fbf3f6"/></svg>
<div class="t b" style="left:1402.30px;transform:translateX(-50%);top:174px;font-size:24px;color:#f3c94c;">C</div>
<div class="t b" style="left:1402.30px;transform:translateX(-50%);top:224px;font-size:12.4px;color:#dedee2;">Average</div>
<div class="t b" style="left:1357.90px;top:251px;font-size:11px;color:#e3e3e7;">View Analysis</div>
<svg style="position:absolute;left:1434.25px;top:249.95px;" width="12.5" height="12.5" viewBox="0 0 24 24" fill="none" stroke="#d0d0d5" stroke-width="2" stroke-linecap="round" stroke-linejoin="round"><path d="m8.25 4.5 7.5 7.5-7.5 7.5"/></svg>
<div class="card" style="left:120px;top:301px;width:695px;height:252.5px"></div>
<div class="card" style="left:839px;top:301px;width:695px;height:252.5px"></div>
<div class="card" style="left:120px;top:577px;width:1414px;height:269.29999999999995px"></div>
<svg style="position:absolute;left:0;top:0" width="1600" height="900"><rect x="121.00" y="339.30" width="693.00" height="1.0" fill="#34353b"/><rect x="840.00" y="339.30" width="693.00" height="1.0" fill="#34353b"/><rect x="167.70" y="371.00" width="604.30" height="1.0" fill="#3a3b41"/><rect x="167.70" y="406.48" width="604.30" height="1.0" fill="#3a3b41"/><rect x="167.70" y="441.95" width="604.30" height="1.0" fill="#3a3b41"/><rect x="167.70" y="477.40" width="604.30" height="1.0" fill="#3a3b41"/><rect x="167.70" y="512.85" width="604.30" height="1.1" fill="#5a5b61"/><rect x="886.60" y="371.00" width="604.40" height="1.0" fill="#3a3b41"/><rect x="886.60" y="406.48" width="604.40" height="1.0" fill="#3a3b41"/><rect x="886.60" y="441.95" width="604.40" height="1.0" fill="#3a3b41"/><rect x="886.60" y="477.40" width="604.40" height="1.0" fill="#3a3b41"/><rect x="886.60" y="512.85" width="604.40" height="1.1" fill="#5a5b61"/><rect x="121.00" y="615.60" width="1412.00" height="1.0" fill="#34353b"/><rect x="121.00" y="654.45" width="1412.00" height="1.0" fill="#34353b"/><rect x="121.00" y="680.25" width="1412.00" height="1.0" fill="#34353b"/><rect x="121.00" y="706.05" width="1412.00" height="1.0" fill="#34353b"/><rect x="121.00" y="731.85" width="1412.00" height="1.0" fill="#34353b"/><rect x="121.00" y="757.65" width="1412.00" height="1.0" fill="#34353b"/><rect x="121.00" y="783.45" width="1412.00" height="1.0" fill="#34353b"/><rect x="121.00" y="809.25" width="1412.00" height="1.0" fill="#34353b"/><rect x="121.00" y="835.05" width="1412.00" height="1.0" fill="#34353b"/></svg>
<svg style="position:absolute;left:130.10px;top:312.60px;" width="16" height="16" viewBox="0 0 24 24" fill="#f2952c" ><path d="M18.375 2.25c-1.035 0-1.875.84-1.875 1.875v15.75c0 1.035.84 1.875 1.875 1.875h.75c1.036 0 1.875-.84 1.875-1.875V4.125c0-1.036-.84-1.875-1.875-1.875h-.75ZM9.75 8.625c0-1.036.84-1.875 1.875-1.875h.75c1.036 0 1.875.84 1.875 1.875v11.25c0 1.035-.84 1.875-1.875 1.875h-.75a1.875 1.875 0 0 1-1.875-1.875V8.625ZM3 13.125c0-1.036.84-1.875 1.875-1.875h.75c1.036 0 1.875.84 1.875 1.875v6.75c0 1.035-.84 1.875-1.875 1.875h-.75A1.875 1.875 0 0 1 3 19.875v-6.75Z"/></svg>
<div class="t m2" style="left:150.70px;top:315px;font-size:12.61px;color:#dedee2;">Failed Pipelines</div>
<svg style="position:absolute;left:848.80px;top:312.60px;" width="16" height="16" viewBox="0 0 24 24" fill="#f2952c" ><path d="M18.375 2.25c-1.035 0-1.875.84-1.875 1.875v15.75c0 1.035.84 1.875 1.875 1.875h.75c1.036 0 1.875-.84 1.875-1.875V4.125c0-1.036-.84-1.875-1.875-1.875h-.75ZM9.75 8.625c0-1.036.84-1.875 1.875-1.875h.75c1.036 0 1.875.84 1.875 1.875v11.25c0 1.035-.84 1.875-1.875 1.875h-.75a1.875 1.875 0 0 1-1.875-1.875V8.625ZM3 13.125c0-1.036.84-1.875 1.875-1.875h.75c1.036 0 1.875.84 1.875 1.875v6.75c0 1.035-.84 1.875-1.875 1.875h-.75A1.875 1.875 0 0 1 3 19.875v-6.75Z"/></svg>
<div class="t m2" style="left:869.60px;top:315px;font-size:12.94px;color:#dedee2;">Failed Pipelines Accumulated Duration</div>
<svg style="position:absolute;left:770.95px;top:314.50px" width="12.3" height="12.3" viewBox="0 0 12.3 12.3"><polygon points="0.0,0.0 4.3,0.0 0.0,4.3" fill="#f2952c"/><line x1="1.2" y1="1.2" x2="4.8" y2="4.8" stroke="#f2952c" stroke-width="1.25"/><polygon points="12.3,0.0 8.0,0.0 12.3,4.3" fill="#f2952c"/><line x1="11.100000000000001" y1="1.2" x2="7.500000000000001" y2="4.8" stroke="#f2952c" stroke-width="1.25"/><polygon points="0.0,12.3 4.3,12.3 0.0,8.0" fill="#f2952c"/><line x1="1.2" y1="11.100000000000001" x2="4.8" y2="7.500000000000001" stroke="#f2952c" stroke-width="1.25"/><polygon points="12.3,12.3 8.0,12.3 12.3,8.0" fill="#f2952c"/><line x1="11.100000000000001" y1="11.100000000000001" x2="7.500000000000001" y2="7.500000000000001" stroke="#f2952c" stroke-width="1.25"/></svg>
<svg style="position:absolute;left:1489.75px;top:314.50px" width="12.3" height="12.3" viewBox="0 0 12.3 12.3"><polygon points="0.0,0.0 4.3,0.0 0.0,4.3" fill="#f2952c"/><line x1="1.2" y1="1.2" x2="4.8" y2="4.8" stroke="#f2952c" stroke-width="1.25"/><polygon points="12.3,0.0 8.0,0.0 12.3,4.3" fill="#f2952c"/><line x1="11.100000000000001" y1="1.2" x2="7.500000000000001" y2="4.8" stroke="#f2952c" stroke-width="1.25"/><polygon points="0.0,12.3 4.3,12.3 0.0,8.0" fill="#f2952c"/><line x1="1.2" y1="11.100000000000001" x2="4.8" y2="7.500000000000001" stroke="#f2952c" stroke-width="1.25"/><polygon points="12.3,12.3 8.0,12.3 12.3,8.0" fill="#f2952c"/><line x1="11.100000000000001" y1="11.100000000000001" x2="7.500000000000001" y2="7.500000000000001" stroke="#f2952c" stroke-width="1.25"/></svg>
<svg style="position:absolute;left:789.80px;top:312.90px" width="15.2" height="15.2" viewBox="0 0 24 24" fill="none" stroke="#f2952c" stroke-width="1.9" stroke-linecap="round" stroke-linejoin="round"><circle cx="12" cy="12" r="9.6"/><path d="M9.3 9.2c.3-1.500 1.400-2.300 2.800-2.300 1.600 0 2.800 1 2.800 2.400 0 1.200-.700 1.800-1.500 2.300-.900.600-1.400 1.100-1.400 2.200v.3" stroke-width="2.1"/><circle cx="12" cy="17.3" r="1.25" fill="#f2952c" stroke="none"/></svg>
<svg style="position:absolute;left:1508.80px;top:312.90px" width="15.2" height="15.2" viewBox="0 0 24 24" fill="none" stroke="#f2952c" stroke-width="1.9" stroke-linecap="round" stroke-linejoin="round"><circle cx="12" cy="12" r="9.6"/><path d="M9.3 9.2c.3-1.500 1.400-2.300 2.800-2.300 1.600 0 2.800 1 2.800 2.400 0 1.200-.700 1.800-1.500 2.300-.900.600-1.400 1.100-1.400 2.200v.3" stroke-width="2.1"/><circle cx="12" cy="17.3" r="1.25" fill="#f2952c" stroke="none"/></svg>
<div class="t" style="right:1438.70px;top:367px;font-size:10.2px;color:#8d8d95;">20</div>
<div class="t" style="right:1438.70px;top:403px;font-size:10.2px;color:#8d8d95;">15</div>
<div class="t" style="right:1438.70px;top:438px;font-size:10.2px;color:#8d8d95;">10</div>
<div class="t" style="right:1438.70px;top:474px;font-size:10.2px;color:#8d8d95;">5</div>
<div class="t" style="right:1438.70px;top:509px;font-size:10.2px;color:#8d8d95;">0</div>
<svg style="position:absolute;left:0;top:300px" width="1600" height="260" viewBox="0 300 1600 260"><rect x="173.00" y="499.21" width="8.2" height="14.99" fill="#e5405f"/><rect x="173.00" y="485.02" width="8.2" height="14.49" fill="#ee7a90"/><rect x="173.00" y="435.36" width="8.2" height="49.96" fill="#fab5c0"/><rect x="193.14" y="506.30" width="8.2" height="7.90" fill="#e5405f"/><rect x="193.14" y="492.12" width="8.2" height="14.49" fill="#fab5c0"/><rect x="213.28" y="492.12" width="8.2" height="22.08" fill="#dc2645"/><rect x="213.28" y="463.74" width="8.2" height="28.68" fill="#e5405f"/><rect x="213.28" y="449.54" width="8.2" height="14.49" fill="#ee7a90"/><rect x="213.28" y="435.36" width="8.2" height="14.49" fill="#fab5c0"/><rect x="233.42" y="485.02" width="8.2" height="29.18" fill="#dc2645"/><rect x="233.42" y="456.64" width="8.2" height="28.68" fill="#e5405f"/><rect x="233.42" y="449.54" width="8.2" height="7.40" fill="#ee7a90"/><rect x="233.42" y="421.16" width="8.2" height="28.68" fill="#fab5c0"/><rect x="253.56" y="492.12" width="8.2" height="22.08" fill="#dc2645"/><rect x="253.56" y="470.83" width="8.2" height="21.59" fill="#e5405f"/><rect x="253.56" y="463.74" width="8.2" height="7.39" fill="#ee7a90"/><rect x="253.56" y="449.54" width="8.2" height="14.49" fill="#fab5c0"/><rect x="273.70" y="485.02" width="8.2" height="29.18" fill="#ee7a90"/><rect x="273.70" y="470.83" width="8.2" height="14.49" fill="#f39aab"/><rect x="273.70" y="378.60" width="8.2" height="92.53" fill="#fab5c0"/><rect x="293.84" y="499.21" width="8.2" height="14.99" fill="#ee7a90"/><rect x="354.26" y="499.21" width="8.2" height="14.99" fill="#fab5c0"/><rect x="374.40" y="499.21" width="8.2" height="14.99" fill="#fab5c0"/><rect x="414.68" y="485.02" width="8.2" height="29.18" fill="#dc2645"/><rect x="414.68" y="421.16" width="8.2" height="64.16" fill="#e5405f"/><rect x="414.68" y="414.07" width="8.2" height="7.39" fill="#ee7a90"/><rect x="434.82" y="428.26" width="8.2" height="85.94" fill="#dc2645"/><rect x="434.82" y="406.98" width="8.2" height="21.58" fill="#e5405f"/><rect x="475.10" y="506.30" width="8.2" height="7.90" fill="#ee7a90"/><rect x="555.66" y="499.21" width="8.2" height="14.99" fill="#dc2645"/><rect x="555.66" y="492.12" width="8.2" height="7.39" fill="#ee7a90"/><rect x="555.66" y="485.02" width="8.2" height="7.40" fill="#fab5c0"/><rect x="575.80" y="499.21" width="8.2" height="14.99" fill="#ee7a90"/><rect x="575.80" y="477.92" width="8.2" height="21.59" fill="#fab5c0"/><rect x="595.94" y="506.30" width="8.2" height="7.90" fill="#e5405f"/><rect x="636.22" y="506.30" width="8.2" height="7.90" fill="#dc2645"/><rect x="636.22" y="477.92" width="8.2" height="28.68" fill="#e5405f"/><rect x="636.22" y="463.74" width="8.2" height="14.49" fill="#fab5c0"/><rect x="636.22" y="449.54" width="8.2" height="14.49" fill="#fde3e7"/><rect x="656.36" y="492.12" width="8.2" height="22.08" fill="#e5405f"/><rect x="656.36" y="485.02" width="8.2" height="7.40" fill="#ea6079"/><rect x="656.36" y="477.92" width="8.2" height="7.40" fill="#ee7a90"/><rect x="656.36" y="467.28" width="8.2" height="10.94" fill="#fab5c0"/><rect x="656.36" y="463.74" width="8.2" height="3.85" fill="#fde3e7"/><rect x="676.50" y="477.92" width="8.2" height="36.28" fill="#e5405f"/><rect x="696.64" y="506.30" width="8.2" height="7.90" fill="#fab5c0"/><rect x="716.78" y="506.30" width="8.2" height="7.90" fill="#ee7a90"/><rect x="716.78" y="477.92" width="8.2" height="28.68" fill="#fab5c0"/><line x1="178.00" y1="513.9" x2="178.00" y2="518" stroke="#5a5b61" stroke-width="1"/><line x1="886.60" y1="513.9" x2="886.60" y2="518" stroke="#5a5b61" stroke-width="1"/><line x1="318.91" y1="513.9" x2="318.91" y2="518" stroke="#5a5b61" stroke-width="1"/><line x1="1032.41" y1="513.9" x2="1032.41" y2="518" stroke="#5a5b61" stroke-width="1"/><line x1="459.82" y1="513.9" x2="459.82" y2="518" stroke="#5a5b61" stroke-width="1"/><line x1="1178.22" y1="513.9" x2="1178.22" y2="518" stroke="#5a5b61" stroke-width="1"/><line x1="600.73" y1="513.9" x2="600.73" y2="518" stroke="#5a5b61" stroke-width="1"/><line x1="1324.03" y1="513.9" x2="1324.03" y2="518" stroke="#5a5b61" stroke-width="1"/><line x1="741.64" y1="513.9" x2="741.64" y2="518" stroke="#5a5b61" stroke-width="1"/><line x1="1469.84" y1="513.9" x2="1469.84" y2="518" stroke="#5a5b61" stroke-width="1"/></svg>
<div class="t" style="left:318.71px;transform:translateX(-50%);top:519px;font-size:10px;color:#8d8d95;letter-spacing:-0.381px;margin-left:-0.190px;">Dec 21</div>
<div class="t" style="left:1032.21px;transform:translateX(-50%);top:519px;font-size:10px;color:#8d8d95;letter-spacing:-0.381px;margin-left:-0.190px;">Dec 21</div>
<div class="t" style="left:459.62px;transform:translateX(-50%);top:519px;font-size:10px;color:#8d8d95;letter-spacing:-0.131px;margin-left:-0.065px;">Dec 28</div>
<div class="t" style="left:1178.02px;transform:translateX(-50%);top:519px;font-size:10px;color:#8d8d95;letter-spacing:-0.131px;margin-left:-0.065px;">Dec 28</div>
<div class="t" style="left:600.53px;transform:translateX(-50%);top:519px;font-size:10px;color:#8d8d95;letter-spacing:-0.213px;margin-left:-0.106px;">Jan 4</div>
<div class="t" style="left:1323.83px;transform:translateX(-50%);top:519px;font-size:10px;color:#8d8d95;letter-spacing:-0.213px;margin-left:-0.106px;">Jan 4</div>
<div class="t" style="left:741.44px;transform:translateX(-50%);top:519px;font-size:10px;color:#8d8d95;letter-spacing:-0.547px;margin-left:-0.274px;">Jan 11</div>
<div class="t" style="left:1469.64px;transform:translateX(-50%);top:519px;font-size:10px;color:#8d8d95;letter-spacing:-0.547px;margin-left:-0.274px;">Jan 11</div>
<div class="t" style="right:720.00px;top:367px;font-size:9.9px;color:#8d8d95;">1h</div>
<div class="t" style="right:720.00px;top:403px;font-size:9.9px;color:#8d8d95;">1h</div>
<div class="t" style="right:720.00px;top:438px;font-size:9.9px;color:#8d8d95;">50m</div>
<div class="t" style="right:720.00px;top:474px;font-size:9.9px;color:#8d8d95;">25m</div>
<svg style="position:absolute;left:0;top:300px" width="1600" height="260" viewBox="0 300 1600 260"><polygon points="886.6,499.7 907.4,511.2 928.3,493.0 949.1,474.8 969.9,485.3 990.8,513.4 990.8,513.9 886.6,513.9" fill="#e0323f" fill-opacity="0.48"/><polygon points="949.1,513.4 969.9,508.4 990.8,489.8 1011.6,513.4 1011.6,513.9 949.1,513.9" fill="#e0323f" fill-opacity="0.48"/><polygon points="969.9,513.4 990.8,499.9 1011.6,505.0 1032.4,513.4 1032.4,513.9 969.9,513.9" fill="#e0323f" fill-opacity="0.48"/><polygon points="886.6,506.1 907.4,511.7 928.3,505.8 949.1,506.7 969.9,508.4 979.9,502.7 988.9,513.4 988.9,513.9 886.6,513.9" fill="#e0323f" fill-opacity="0.6"/><polygon points="886.6,508.4 907.4,512.4 928.3,508.9 949.1,509.4 969.9,509.9 988.7,513.4 988.7,513.9 886.6,513.9" fill="#f04a50" fill-opacity="0.7"/><polygon points="1053.2,513.4 1074.1,509.4 1094.9,509.0 1115.7,513.4 1115.7,513.9 1053.2,513.9" fill="#e0323f" fill-opacity="0.48"/><polygon points="1115.7,513.4 1136.6,468.6 1157.4,387.6 1178.2,513.4 1178.2,513.9 1115.7,513.9" fill="#e0323f" fill-opacity="0.48"/><polygon points="1115.7,513.4 1136.6,480.4 1157.4,498.1 1178.2,513.4 1178.2,513.9 1115.7,513.9" fill="#e0323f" fill-opacity="0.5"/><polygon points="1261.5,513.4 1282.4,508.4 1303.2,505.4 1324.0,511.9 1344.9,513.4 1365.7,506.0 1386.5,505.2 1407.3,502.8 1428.2,512.4 1449.0,505.2 1469.8,513.4 1469.8,513.9 1261.5,513.9" fill="#e0323f" fill-opacity="0.48"/><polygon points="1261.5,513.4 1282.4,509.9 1303.2,509.4 1324.0,512.9 1344.9,513.4 1365.7,509.4 1386.5,510.4 1407.3,512.4 1428.2,512.9 1449.0,509.9 1469.8,513.4 1469.8,513.9 1261.5,513.9" fill="#e0323f" fill-opacity="0.6"/></svg>
<svg style="position:absolute;left:129.70px;top:589.10px;" width="16.6" height="16.6" viewBox="0 0 24 24" fill="none" stroke="#f2952c" stroke-width="1.5" stroke-linecap="round" stroke-linejoin="round"><path d="M20.25 6.375c0 2.278-3.694 4.125-8.25 4.125S3.75 8.653 3.75 6.375m16.5 0c0-2.278-3.694-4.125-8.25-4.125S3.75 4.097 3.75 6.375m16.5 0v11.25c0 2.278-3.694 4.125-8.25 4.125s-8.25-1.847-8.25-4.125V6.375m16.5 0v3.75m-16.5-3.75v3.75m16.5 0v3.75C20.25 16.153 16.556 18 12 18s-8.25-1.847-8.25-4.125v-3.75m16.5 0c0 2.278-3.694 4.125-8.25 4.125s-8.25-1.847-8.25-4.125"/></svg>
<div class="t m2" style="left:150.70px;top:592px;font-size:12.72px;color:#dedee2;">Top Failed Pipelines</div>
<svg style="position:absolute;left:1508.70px;top:587.00px" width="15.2" height="15.2" viewBox="0 0 24 24" fill="none" stroke="#f2952c" stroke-width="1.9" stroke-linecap="round" stroke-linejoin="round"><circle cx="12" cy="12" r="9.6"/><path d="M9.3 9.2c.3-1.500 1.400-2.300 2.800-2.300 1.600 0 2.800 1 2.800 2.400 0 1.200-.700 1.800-1.500 2.300-.900.600-1.400 1.100-1.400 2.200v.3" stroke-width="2.1"/><circle cx="12" cy="17.3" r="1.25" fill="#f2952c" stroke="none"/></svg>
<div class="t m" style="left:145.80px;top:630px;font-size:9.53px;color:#e2e2e6;">JOB NAME</div>
<div class="t m" style="left:609.70px;top:630px;font-size:9.51px;color:#e2e2e6;">COUNT</div>
<div class="t m" style="left:813.40px;top:630px;font-size:9.42px;color:#e2e2e6;">MEDIAN:@DURATION</div>
<div class="t m" style="left:1100.90px;top:630px;font-size:9.55px;color:#e2e2e6;">PC95:@DURATION</div>
<div class="t m" style="left:1367.00px;top:630px;font-size:9.42px;color:#e2e2e6;">SUM@DURATION</div>
<div class="t m2" style="left:146.00px;top:664px;font-size:10.02px;color:#e6e6ea;letter-spacing:0.083px;">(Shared) Lint</div>
<div class="t m2" style="right:970.00px;top:664px;font-size:10.1px;color:#e6e6ea;">46</div>
<div style="position:absolute;left:636.10px;top:663.05px;width:34.95px;height:9.80px;background:#3e3e44;"></div>
<div style="position:absolute;left:636.10px;top:663.05px;width:35.00px;height:9.80px;background:#ef4146;"></div>
<div class="t m2" style="right:734.40px;top:664px;font-size:9.7px;color:#e6e6ea;">1m 16s</div>
<div style="position:absolute;left:872.00px;top:663.05px;width:34.95px;height:9.80px;background:#3e3e44;"></div>
<div style="position:absolute;left:872.00px;top:663.05px;width:6.20px;height:9.80px;background:#ef4146;"></div>
<div class="t m2" style="right:453.00px;top:664px;font-size:9.7px;color:#e6e6ea;">1m 43s</div>
<div style="position:absolute;left:1153.40px;top:663.05px;width:34.95px;height:9.80px;background:#3e3e44;"></div>
<div style="position:absolute;left:1153.40px;top:663.05px;width:7.80px;height:9.80px;background:#ef4146;"></div>
<div class="t m2" style="right:190.10px;top:664px;font-size:9.7px;color:#e6e6ea;">57m 27s</div>
<div style="position:absolute;left:1416.00px;top:663.05px;width:34.95px;height:9.80px;background:#3e3e44;"></div>
<div style="position:absolute;left:1416.00px;top:663.05px;width:11.00px;height:9.80px;background:#ef4146;"></div>
<div class="t m2" style="left:146.00px;top:689px;font-size:10.02px;color:#e6e6ea;letter-spacing:0.152px;">(Compiler) TypeScript</div>
<div class="t m2" style="right:970.00px;top:689px;font-size:10.1px;color:#e6e6ea;">39</div>
<div style="position:absolute;left:636.10px;top:688.85px;width:34.95px;height:9.80px;background:#3e3e44;"></div>
<div style="position:absolute;left:636.10px;top:688.85px;width:30.00px;height:9.80px;background:#ef4146;"></div>
<div class="t m2" style="right:734.40px;top:689px;font-size:9.7px;color:#e6e6ea;">1m 31s</div>
<div style="position:absolute;left:872.00px;top:688.85px;width:34.95px;height:9.80px;background:#3e3e44;"></div>
<div style="position:absolute;left:872.00px;top:688.85px;width:7.10px;height:9.80px;background:#ef4146;"></div>
<div class="t m2" style="right:453.00px;top:689px;font-size:9.7px;color:#e6e6ea;">3m 19s</div>
<div style="position:absolute;left:1153.40px;top:688.85px;width:34.95px;height:9.80px;background:#3e3e44;"></div>
<div style="position:absolute;left:1153.40px;top:688.85px;width:14.60px;height:9.80px;background:#ef4146;"></div>
<div class="t m2" style="right:190.10px;top:689px;font-size:9.7px;color:#e6e6ea;">1h 11m</div>
<div style="position:absolute;left:1416.00px;top:688.85px;width:34.95px;height:9.80px;background:#3e3e44;"></div>
<div style="position:absolute;left:1416.00px;top:688.85px;width:13.90px;height:9.80px;background:#ef4146;"></div>
<div class="t m2" style="left:146.00px;top:715px;font-size:10.02px;color:#e6e6ea;letter-spacing:0.079px;">(Compiler) Playground</div>
<div class="t m2" style="right:970.00px;top:715px;font-size:10.1px;color:#e6e6ea;">29</div>
<div style="position:absolute;left:636.10px;top:714.65px;width:34.95px;height:9.80px;background:#3e3e44;"></div>
<div style="position:absolute;left:636.10px;top:714.65px;width:21.70px;height:9.80px;background:#ef4146;"></div>
<div class="t m2" style="right:734.40px;top:715px;font-size:9.7px;color:#e6e6ea;">7m 12s</div>
<div style="position:absolute;left:872.00px;top:714.65px;width:34.95px;height:9.80px;background:#3e3e44;"></div>
<div style="position:absolute;left:872.00px;top:714.65px;width:35.00px;height:9.80px;background:#ef4146;"></div>
<div class="t m2" style="right:453.00px;top:715px;font-size:9.7px;color:#e6e6ea;">7m 54s</div>
<div style="position:absolute;left:1153.40px;top:714.65px;width:34.95px;height:9.80px;background:#3e3e44;"></div>
<div style="position:absolute;left:1153.40px;top:714.65px;width:35.00px;height:9.80px;background:#ef4146;"></div>
<div class="t m2" style="right:190.10px;top:715px;font-size:9.7px;color:#e6e6ea;">3h 5m</div>
<div style="position:absolute;left:1416.00px;top:714.65px;width:34.95px;height:9.80px;background:#3e3e44;"></div>
<div style="position:absolute;left:1416.00px;top:714.65px;width:35.00px;height:9.80px;background:#ef4146;"></div>
<div class="t m2" style="left:146.00px;top:741px;font-size:10.02px;color:#e6e6ea;letter-spacing:0.069px;">(Runtime) Build and Test</div>
<div class="t m2" style="right:970.00px;top:741px;font-size:10.1px;color:#e6e6ea;">19</div>
<div style="position:absolute;left:636.10px;top:740.45px;width:34.95px;height:9.80px;background:#3e3e44;"></div>
<div style="position:absolute;left:636.10px;top:740.45px;width:14.60px;height:9.80px;background:#ef4146;"></div>
<div class="t m2" style="right:734.40px;top:741px;font-size:9.7px;color:#e6e6ea;">2m 33s</div>
<div style="position:absolute;left:872.00px;top:740.45px;width:34.95px;height:9.80px;background:#3e3e44;"></div>
<div style="position:absolute;left:872.00px;top:740.45px;width:12.30px;height:9.80px;background:#ef4146;"></div>
<div class="t m2" style="right:453.00px;top:741px;font-size:9.7px;color:#e6e6ea;">3m 46s</div>
<div style="position:absolute;left:1153.40px;top:740.45px;width:34.95px;height:9.80px;background:#3e3e44;"></div>
<div style="position:absolute;left:1153.40px;top:740.45px;width:16.80px;height:9.80px;background:#ef4146;"></div>
<div class="t m2" style="right:190.10px;top:741px;font-size:9.7px;color:#e6e6ea;">48m 27s</div>
<div style="position:absolute;left:1416.00px;top:740.45px;width:34.95px;height:9.80px;background:#3e3e44;"></div>
<div style="position:absolute;left:1416.00px;top:740.45px;width:9.70px;height:9.80px;background:#ef4146;"></div>
<div class="t m2" style="left:146.00px;top:767px;font-size:10.02px;color:#e6e6ea;letter-spacing:0.174px;">Discord Notify</div>
<div class="t m2" style="right:970.00px;top:767px;font-size:10.1px;color:#e6e6ea;">3</div>
<div style="position:absolute;left:636.10px;top:766.25px;width:34.95px;height:9.80px;background:#3e3e44;"></div>
<div style="position:absolute;left:636.10px;top:766.25px;width:2.60px;height:9.80px;background:#ef4146;"></div>
<div class="t m2" style="right:734.40px;top:767px;font-size:9.7px;color:#e6e6ea;">0s</div>
<div style="position:absolute;left:872.00px;top:766.25px;width:34.95px;height:9.80px;background:#3e3e44;"></div>
<div class="t m2" style="right:453.00px;top:767px;font-size:9.7px;color:#e6e6ea;">26s</div>
<div style="position:absolute;left:1153.40px;top:766.25px;width:34.95px;height:9.80px;background:#3e3e44;"></div>
<div style="position:absolute;left:1153.40px;top:766.25px;width:2.30px;height:9.80px;background:#ef4146;"></div>
<div class="t m2" style="right:190.10px;top:767px;font-size:9.7px;color:#e6e6ea;">29s</div>
<div style="position:absolute;left:1416.00px;top:766.25px;width:34.95px;height:9.80px;background:#3e3e44;"></div>
<div style="position:absolute;left:1416.00px;top:766.25px;width:0.50px;height:9.80px;background:#ef4146;"></div>
<div class="t m2" style="left:146.00px;top:793px;font-size:10.02px;color:#e6e6ea;letter-spacing:-0.001px;">(Runtime) Publish Prereleases Manual</div>
<div class="t m2" style="right:970.00px;top:793px;font-size:10.1px;color:#e6e6ea;">2</div>
<div style="position:absolute;left:636.10px;top:792.05px;width:34.95px;height:9.80px;background:#3e3e44;"></div>
<div style="position:absolute;left:636.10px;top:792.05px;width:1.90px;height:9.80px;background:#ef4146;"></div>
<div class="t m2" style="right:734.40px;top:793px;font-size:9.7px;color:#e6e6ea;">38s</div>
<div style="position:absolute;left:872.00px;top:792.05px;width:34.95px;height:9.80px;background:#3e3e44;"></div>
<div style="position:absolute;left:872.00px;top:792.05px;width:2.90px;height:9.80px;background:#ef4146;"></div>
<div class="t m2" style="right:453.00px;top:793px;font-size:9.7px;color:#e6e6ea;">38s</div>
<div style="position:absolute;left:1153.40px;top:792.05px;width:34.95px;height:9.80px;background:#3e3e44;"></div>
<div style="position:absolute;left:1153.40px;top:792.05px;width:3.20px;height:9.80px;background:#ef4146;"></div>
<div class="t m2" style="right:190.10px;top:793px;font-size:9.7px;color:#e6e6ea;">1m 16s</div>
<div style="position:absolute;left:1416.00px;top:792.05px;width:34.95px;height:9.80px;background:#3e3e44;"></div>
<div style="position:absolute;left:1416.00px;top:792.05px;width:0.50px;height:9.80px;background:#ef4146;"></div>
<div class="t m2" style="left:146.00px;top:818px;font-size:10.02px;color:#e6e6ea;letter-spacing:0.010px;">(DevTools) Regression Tests</div>
<div class="t m2" style="right:970.00px;top:818px;font-size:10.1px;color:#e6e6ea;">1</div>
<div style="position:absolute;left:636.10px;top:817.85px;width:34.95px;height:9.80px;background:#3e3e44;"></div>
<div style="position:absolute;left:636.10px;top:817.85px;width:1.00px;height:9.80px;background:#ef4146;"></div>
<div class="t m2" style="right:734.40px;top:818px;font-size:9.7px;color:#e6e6ea;">1m 15s</div>
<div style="position:absolute;left:872.00px;top:817.85px;width:34.95px;height:9.80px;background:#3e3e44;"></div>
<div style="position:absolute;left:872.00px;top:817.85px;width:6.10px;height:9.80px;background:#ef4146;"></div>
<div class="t m2" style="right:453.00px;top:818px;font-size:9.7px;color:#e6e6ea;">1m 15s</div>
<div style="position:absolute;left:1153.40px;top:817.85px;width:34.95px;height:9.80px;background:#3e3e44;"></div>
<div style="position:absolute;left:1153.40px;top:817.85px;width:5.80px;height:9.80px;background:#ef4146;"></div>
<div class="t m2" style="right:190.10px;top:818px;font-size:9.7px;color:#e6e6ea;">1m 15s</div>
<div style="position:absolute;left:1416.00px;top:817.85px;width:34.95px;height:9.80px;background:#3e3e44;"></div>
<div style="position:absolute;left:1416.00px;top:817.85px;width:0.50px;height:9.80px;background:#ef4146;"></div>
</div></body></html>
